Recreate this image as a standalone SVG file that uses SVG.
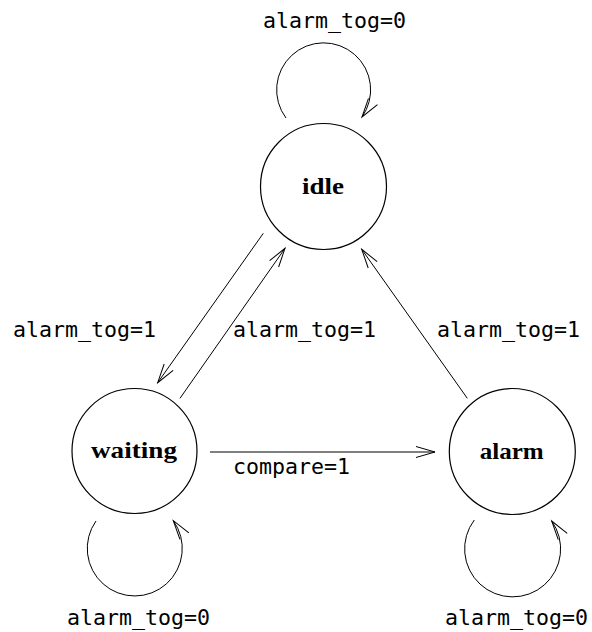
<svg xmlns="http://www.w3.org/2000/svg" width="592" height="632" viewBox="0 0 592 632">
  <style>
    .state { fill: #ffffff; stroke: #000000; stroke-width: 1.2; }
    .name { font-family: "Liberation Serif", "Times New Roman", serif; font-weight: bold; font-size: 24px; fill: #000000; text-anchor: middle; }
    .edge { fill: none; stroke: #000000; stroke-width: 1; marker-end: url(#vee); }
    .cond { font-family: "DejaVu Sans Mono", "Liberation Mono", monospace; font-size: 21.6px; fill: #000000; }
  </style>
  <defs>
    <marker id="vee" markerUnits="userSpaceOnUse" markerWidth="24" markerHeight="14" viewBox="-20 -7 24 14" refX="0" refY="0" orient="auto" overflow="visible">
      <path d="M-19,-5.5 L0,0 L-19,5.5" fill="none" stroke="#000000" stroke-width="1"/>
    </marker>
  </defs>
  <rect width="592" height="632" fill="#ffffff"/>

  <!-- transitions -->
  <g id="connectors">
    <!-- idle self-loop -->
    <path class="edge" d="M286,118 A47,47 0 1 1 362,117"/>
    <text class="cond" x="263" y="28">alarm_tog=0</text>

    <!-- idle -> waiting -->
    <path class="edge" d="M263.3,233.3 L157.7,382.7"/>
    <text class="cond" x="13" y="337">alarm_tog=1</text>

    <!-- waiting -> idle -->
    <path class="edge" d="M180,398.3 L285,248.3"/>
    <text class="cond" x="233" y="337">alarm_tog=1</text>

    <!-- alarm -> idle -->
    <path class="edge" d="M467.3,398.3 L361.7,249.3"/>
    <text class="cond" x="437" y="337">alarm_tog=1</text>

    <!-- waiting -> alarm -->
    <path class="edge" d="M210,452 L435,452"/>
    <text class="cond" x="233" y="474">compare=1</text>

    <!-- waiting self-loop -->
    <path class="edge" d="M96,521 A47.5,47.5 0 1 0 173.3,520.7"/>
    <text class="cond" x="67" y="625">alarm_tog=0</text>

    <!-- alarm self-loop -->
    <path class="edge" d="M474.3,520 A48,48 0 1 0 551.7,521"/>
    <text class="cond" x="445" y="625">alarm_tog=0</text>
  </g>

  <!-- states -->
  <g id="idle">
    <circle class="state" cx="323.5" cy="186.5" r="63"/>
    <text class="name" x="323" y="194" textLength="42" lengthAdjust="spacingAndGlyphs">idle</text>
  </g>
  <g id="waiting">
    <circle class="state" cx="134.5" cy="451" r="62.5"/>
    <text class="name" x="134" y="458" textLength="86" lengthAdjust="spacingAndGlyphs">waiting</text>
  </g>
  <g id="alarm">
    <circle class="state" cx="512.3" cy="451.5" r="63"/>
    <text class="name" x="511.7" y="459" textLength="64" lengthAdjust="spacingAndGlyphs">alarm</text>
  </g>
</svg>
